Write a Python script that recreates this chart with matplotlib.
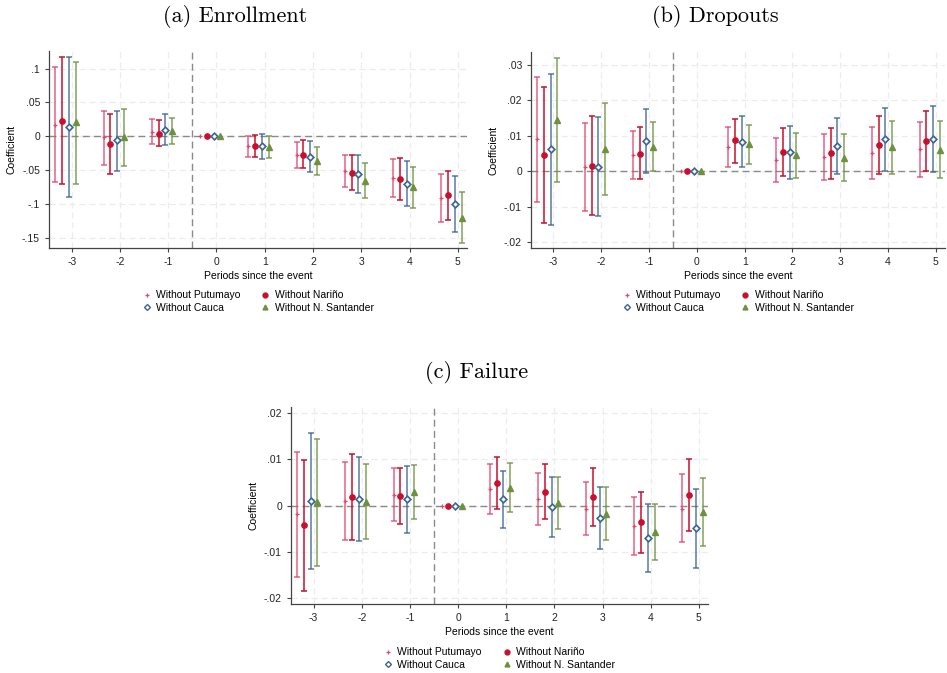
import numpy as np
import matplotlib
matplotlib.use('Agg')
import matplotlib.pyplot as plt
from matplotlib.lines import Line2D
from matplotlib.ticker import FuncFormatter

periods = [-3, -2, -1, 0, 1, 2, 3, 4, 5]
series_names = ['Without Putumayo', 'Without Nariño', 'Without Cauca', 'Without N. Santander']

# (a) Enrollment: point, lower and upper bound per series
enr_put = [0.016, -0.001, 0.007, 0.0, -0.014, -0.028, -0.051, -0.062, -0.091]
enr_put_lo = [-0.068, -0.042, -0.011, np.nan, -0.030, -0.047, -0.075, -0.090, -0.126]
enr_put_hi = [0.102, 0.038, 0.026, np.nan, 0.001, -0.009, -0.027, -0.033, -0.056]
enr_nar = [0.023, -0.011, 0.004, 0.0, -0.014, -0.027, -0.054, -0.063, -0.087]
enr_nar_lo = [-0.071, -0.055, -0.015, np.nan, -0.030, -0.047, -0.080, -0.094, -0.124]
enr_nar_hi = [0.117, 0.033, 0.024, np.nan, 0.002, -0.006, -0.028, -0.032, -0.051]
enr_cau = [0.014, -0.006, 0.010, 0.0, -0.015, -0.030, -0.055, -0.070, -0.100]
enr_cau_lo = [-0.089, -0.051, -0.013, np.nan, -0.034, -0.052, -0.084, -0.103, -0.141]
enr_cau_hi = [0.117, 0.038, 0.033, np.nan, 0.003, -0.007, -0.027, -0.036, -0.059]
enr_san = [0.021, -0.001, 0.008, 0.0, -0.016, -0.036, -0.066, -0.075, -0.120]
enr_san_lo = [-0.070, -0.044, -0.011, np.nan, -0.032, -0.057, -0.091, -0.106, -0.157]
enr_san_hi = [0.110, 0.040, 0.027, np.nan, 0.0, -0.016, -0.040, -0.045, -0.083]

# (b) Dropouts
dro_put = [0.0090, 0.0011, 0.0045, 0.0, 0.0069, 0.0031, 0.0040, 0.0051, 0.0062]
dro_put_lo = [-0.0087, -0.0112, -0.0022, np.nan, 0.0013, -0.0031, -0.0025, -0.0023, -0.0017]
dro_put_hi = [0.0266, 0.0135, 0.0114, np.nan, 0.0126, 0.0093, 0.0106, 0.0126, 0.0139]
dro_nar = [0.0045, 0.0015, 0.0050, 0.0, 0.0087, 0.0053, 0.0051, 0.0073, 0.0085]
dro_nar_lo = [-0.0146, -0.0125, -0.0023, np.nan, 0.0024, -0.0014, -0.0022, -0.0008, 0.0002]
dro_nar_hi = [0.0237, 0.0156, 0.0124, np.nan, 0.0148, 0.0122, 0.0122, 0.0156, 0.0170]
dro_cau = [0.0062, 0.0012, 0.0085, 0.0, 0.0083, 0.0053, 0.0072, 0.0090, 0.0091]
dro_cau_lo = [-0.0151, -0.0127, -0.0006, np.nan, 0.0013, -0.0021, -0.0008, 0.0, -0.0003]
dro_cau_hi = [0.0275, 0.0154, 0.0175, np.nan, 0.0155, 0.0128, 0.0151, 0.0180, 0.0185]
dro_san = [0.0145, 0.0063, 0.0069, 0.0, 0.0076, 0.0045, 0.0038, 0.0068, 0.0061]
dro_san_lo = [-0.0031, -0.0068, 0.0, np.nan, 0.0020, -0.0019, -0.0028, -0.0009, -0.0019]
dro_san_hi = [0.0320, 0.0193, 0.0139, np.nan, 0.0132, 0.0109, 0.0104, 0.0143, 0.0141]

# (c) Failure
fai_put = [-0.0018, 0.0010, 0.0024, 0.0, 0.0037, 0.0015, -0.0006, -0.0044, -0.0006]
fai_put_lo = [-0.0153, -0.0075, -0.0034, np.nan, -0.0017, -0.0041, -0.0064, -0.0106, -0.0079]
fai_put_hi = [0.0115, 0.0094, 0.0081, np.nan, 0.0090, 0.0071, 0.0051, 0.0019, 0.0068]
fai_nar = [-0.0042, 0.0019, 0.0021, 0.0, 0.0049, 0.0030, 0.0019, -0.0036, 0.0023]
fai_nar_lo = [-0.0183, -0.0073, -0.0040, np.nan, -0.0006, -0.0029, -0.0044, -0.0103, -0.0055]
fai_nar_hi = [0.0098, 0.0112, 0.0081, np.nan, 0.0105, 0.0089, 0.0081, 0.0029, 0.0100]
fai_cau = [0.0010, 0.0014, 0.0014, 0.0, 0.0014, -0.0003, -0.0027, -0.0070, -0.0049]
fai_cau_lo = [-0.0137, -0.0077, -0.0058, np.nan, -0.0048, -0.0068, -0.0094, -0.0142, -0.0135]
fai_cau_hi = [0.0157, 0.0105, 0.0086, np.nan, 0.0074, 0.0061, 0.0040, 0.0003, 0.0037]
fai_san = [0.0008, 0.0009, 0.0029, 0.0, 0.0039, 0.0006, -0.0017, -0.0056, -0.0014]
fai_san_lo = [-0.0129, -0.0072, -0.0028, np.nan, -0.0014, -0.0050, -0.0074, -0.0117, -0.0087]
fai_san_hi = [0.0144, 0.0089, 0.0087, np.nan, 0.0093, 0.0061, 0.0040, 0.0004, 0.0059]

colors = ['#dc4a70', '#c8102e', '#3b6592', '#6e9140']
offsets = [-0.34, -0.2, -0.06, 0.08]

plt.rcParams['font.family'] = ['Liberation Sans', 'DejaVu Sans']
plt.rcParams['axes.unicode_minus'] = False


def stata_fmt(v, pos):
    if abs(v) < 1e-12:
        return '0'
    s = ('%.3f' % v).rstrip('0').rstrip('.')
    return s.replace('0.', '.')


def draw_panel(ax, series, yticks, ylim):
    ax.axhline(0, color='#8a8a8a', ls=(0, (5, 3)), lw=1.0, zorder=1)
    ax.axvline(-0.5, color='#8a8a8a', ls=(0, (5, 3)), lw=1.0, zorder=1)
    x = np.array(periods, dtype=float)
    for i, (pt, lo, hi) in enumerate(series):
        pt = np.array(pt); lo = np.array(lo); hi = np.array(hi)
        xs = x + offsets[i]
        err = np.vstack([pt - lo, hi - pt])
        ax.errorbar(xs, pt, yerr=err, fmt='none', ecolor=colors[i], elinewidth=1.1,
                    capsize=2.0, capthick=1.1, alpha=0.85 if i != 1 else 1.0, zorder=3)
        if i == 0:
            ax.plot(xs, pt, ls='none', marker='+', ms=3.5, mew=0.9, color=colors[i], zorder=4)
        elif i == 1:
            ax.plot(xs, pt, ls='none', marker='o', ms=3.8, color=colors[i], zorder=4)
        elif i == 2:
            ax.plot(xs, pt, ls='none', marker='D', ms=3.4, mew=1.2, mfc='white',
                    mec=colors[i], zorder=4)
        else:
            ax.plot(xs, pt, ls='none', marker='^', ms=4.0, color=colors[i], zorder=4)
    ax.set_xlim(-3.47, 5.19)
    ax.set_ylim(*ylim)
    ax.set_xticks(periods)
    ax.set_yticks(yticks)
    ax.yaxis.set_major_formatter(FuncFormatter(stata_fmt))
    ax.grid(True, color='#ececec', ls=(0, (5, 3)), lw=0.9, zorder=0)
    ax.set_axisbelow(True)
    for side in ['top', 'right']:
        ax.spines[side].set_visible(False)
    for side in ['left', 'bottom']:
        ax.spines[side].set_color('#444444')
        ax.spines[side].set_linewidth(0.9)
    ax.tick_params(labelsize=7.5, length=3, width=0.8, color='#444444', labelcolor='#222222')
    ax.set_xlabel('Periods since the event', fontsize=7.5, labelpad=3)
    ax.set_ylabel('Coefficient', fontsize=7.5, labelpad=4)


def add_legend(fig, ax, y):
    handles = [
        Line2D([], [], ls='none', marker='+', ms=3.5, mew=0.9, color=colors[0]),
        Line2D([], [], ls='none', marker='D', ms=3.0, mew=1.0, mfc='white', mec=colors[2]),
        Line2D([], [], ls='none', marker='o', ms=3.5, color=colors[1]),
        Line2D([], [], ls='none', marker='^', ms=3.5, color=colors[3]),
    ]
    labels = [series_names[0], series_names[2], series_names[1], series_names[3]]
    pos = ax.get_position()
    fig.legend(handles, labels, ncol=2, loc='upper center', frameon=False, fontsize=7.5,
               bbox_to_anchor=((pos.x0 + pos.x1) / 2, y), handlelength=0.8, handletextpad=0.5,
               columnspacing=2.0, labelspacing=0.25)


fig = plt.figure(figsize=(9.47, 6.73), dpi=100)
W, H = 947.0, 673.0

ax_a = fig.add_axes([49 / W, 1 - 248 / H, 418 / W, 197 / H])
ax_b = fig.add_axes([531 / W, 1 - 248 / H, 414 / W, 196 / H])
ax_c = fig.add_axes([291 / W, 1 - 604 / H, 417 / W, 197 / H])

draw_panel(ax_a, [(enr_put, enr_put_lo, enr_put_hi), (enr_nar, enr_nar_lo, enr_nar_hi),
                  (enr_cau, enr_cau_lo, enr_cau_hi), (enr_san, enr_san_lo, enr_san_hi)],
           [-0.15, -0.1, -0.05, 0, 0.05, 0.1], (-0.165, 0.126))
draw_panel(ax_b, [(dro_put, dro_put_lo, dro_put_hi), (dro_nar, dro_nar_lo, dro_nar_hi),
                  (dro_cau, dro_cau_lo, dro_cau_hi), (dro_san, dro_san_lo, dro_san_hi)],
           [-0.02, -0.01, 0, 0.01, 0.02, 0.03], (-0.0217, 0.0337))
draw_panel(ax_c, [(fai_put, fai_put_lo, fai_put_hi), (fai_nar, fai_nar_lo, fai_nar_hi),
                  (fai_cau, fai_cau_lo, fai_cau_hi), (fai_san, fai_san_lo, fai_san_hi)],
           [-0.02, -0.01, 0, 0.01, 0.02], (-0.0212, 0.0213))

add_legend(fig, ax_a, 1 - 281 / H)
add_legend(fig, ax_b, 1 - 281 / H)
add_legend(fig, ax_c, 1 - 638 / H)

fig.text(235 / W, 1 - 17 / H, '(a) Enrollment', fontsize=16, family='cmr10', ha='center', va='center')
fig.text(715 / W, 1 - 17 / H, '(b) Dropouts', fontsize=16, family='cmr10', ha='center', va='center')
fig.text(477 / W, 1 - 373 / H, '(c) Failure', fontsize=16, family='cmr10', ha='center', va='center')

fig.savefig('out.png', dpi=100, facecolor='white')
